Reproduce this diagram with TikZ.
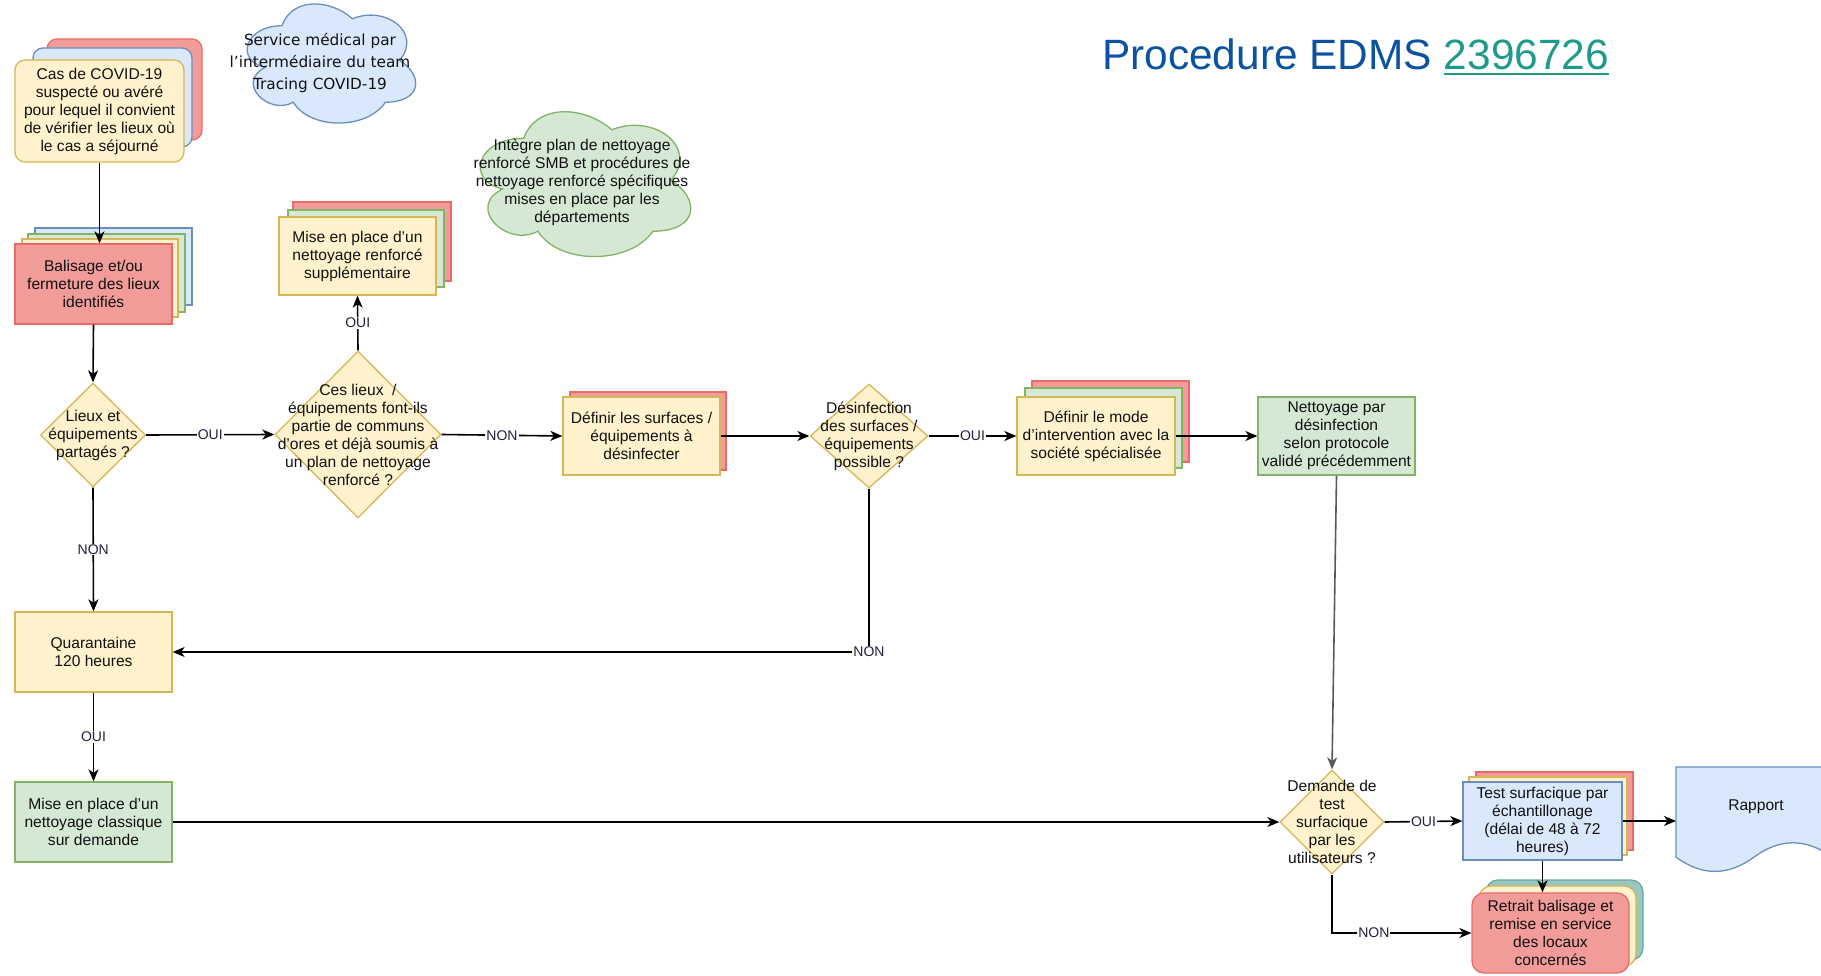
\documentclass[tikz,border=0pt]{standalone}
\usepackage{fontspec}
\setmainfont{Liberation Sans}
\newfontfamily\cloudfont{DejaVu Sans}
\usetikzlibrary{arrows.meta,shapes.geometric,calc}
\definecolor{yfill}{HTML}{FFF2CC}
\definecolor{ydraw}{HTML}{D6B656}
\definecolor{rfill}{HTML}{F19C99}
\definecolor{rdraw}{HTML}{EA6B66}
\definecolor{gfill}{HTML}{D5E8D4}
\definecolor{gdraw}{HTML}{82B366}
\definecolor{bfill}{HTML}{DAE8FC}
\definecolor{bdraw}{HTML}{6C8EBF}
\definecolor{tfill}{HTML}{9AC7BF}
\definecolor{tdraw}{HTML}{67AB9F}
\definecolor{titleblue}{HTML}{0B52A0}
\definecolor{linkteal}{HTML}{1E9A8A}
\definecolor{lbl}{HTML}{202040}
\definecolor{txtc}{HTML}{111111}
\newcommand\nodefont{\fontsize{15.6}{18}\selectfont}
\newcommand\labfont{\fontsize{14}{16}\selectfont}
\newcommand\myuline[1]{\setbox0\hbox{#1}\rlap{\rule[-5pt]{\wd0}{2.4pt}}\box0}
\tikzset{
  lw/.style={line width=1.3pt},
  yb/.style={lw, draw=ydraw, fill=yfill},
  rb/.style={lw, draw=rdraw, fill=rfill},
  gb/.style={lw, draw=gdraw, fill=gfill},
  bb/.style={lw, draw=bdraw, fill=bfill},
  tb/.style={lw, draw=tdraw, fill=tfill},
  boxn/.style={rectangle, inner sep=0pt, align=center, font=\nodefont, text=txtc},
  nd/.style={inner sep=0pt, align=center, font=\nodefont, text=txtc},
  dia/.style={diamond, inner sep=0pt, lw, draw=ydraw, fill=yfill},
  conn/.style={line width=1.6pt, draw=black, -{Stealth[length=12pt,width=10pt,inset=3.5pt]}},
  lab/.style={fill=white, inner sep=1pt, font=\labfont, text=lbl},
}
\begin{document}
\begin{tikzpicture}[x=1pt,y=-1pt]
\useasboundingbox (0,0) rectangle (1821,976);

% ---------- title ----------
\node[anchor=base west, inner sep=0pt, font=\fontsize{42.4}{48}\selectfont, text=titleblue] (title) at (1102,70)
  {Procedure EDMS \textcolor{linkteal}{\myuline{2396726}}};

% ---------- clouds ----------
\begin{scope}[shift={(235,-9)},xscale=188,yscale=139]
\draw[bb] (0.25,0.25) .. controls (0.05,0.25) and (0,0.5) .. (0.16,0.55) .. controls (0,0.66) and (0.18,0.9) .. (0.31,0.8) .. controls (0.4,1) and (0.7,1) .. (0.8,0.8) .. controls (1,0.8) and (1,0.6) .. (0.875,0.5) .. controls (1,0.3) and (0.8,0.1) .. (0.625,0.2) .. controls (0.5,0.05) and (0.3,0.05) .. (0.25,0.25) -- cycle;
\end{scope}
\node[inner sep=0pt, align=center, text=txtc, font=\cloudfont\fontsize{15.3}{21.7}\selectfont] (cloud1) at (320,63)
  {Service médical par\\l’intermédiaire du team\\Tracing COVID-19};

\begin{scope}[shift={(465,96)},xscale=235,yscale=169]
\draw[gb] (0.25,0.25) .. controls (0.05,0.25) and (0,0.5) .. (0.16,0.55) .. controls (0,0.66) and (0.18,0.9) .. (0.31,0.8) .. controls (0.4,1) and (0.7,1) .. (0.8,0.8) .. controls (1,0.8) and (1,0.6) .. (0.875,0.5) .. controls (1,0.3) and (0.8,0.1) .. (0.625,0.2) .. controls (0.5,0.05) and (0.3,0.05) .. (0.25,0.25) -- cycle;
\end{scope}
\node[nd] (cloud2) at (582,182)
  {Intègre plan de nettoyage\\renforcé SMB et procédures de\\nettoyage renforcé spécifiques\\mises en place par les\\départements};

% ---------- Cas de COVID ----------
\draw[rb, rounded corners=10pt] (47,39) rectangle (202,140);
\draw[bb, rounded corners=10pt] (33,48) rectangle (192,147);
\node[boxn, yb, rounded corners=10pt, minimum width=169, minimum height=102] (cas) at (99.5,111)
  {Cas de COVID-19\\suspecté ou avéré\\pour lequel il convient\\de vérifier les lieux où\\le cas a séjourné};

% ---------- Balisage ----------
\draw[bb] (35,228) rectangle (192,305);
\draw[gb] (28,234) rectangle (185,312);
\draw[yb] (22,239) rectangle (178,317);
\node[boxn, rb, minimum width=157, minimum height=80] (bal) at (93.5,284)
  {Balisage et/ou\\fermeture des lieux\\identifiés};

% ---------- renforce supplementaire ----------
\draw[rb] (293,202) rectangle (451,281);
\draw[gb] (288,210) rectangle (444,287);
\node[boxn, yb, minimum width=157, minimum height=78] (ren) at (357.5,256)
  {Mise en place d'un\\nettoyage renforcé\\supplémentaire};

% ---------- diamonds ----------
\node[dia, minimum width=105, minimum height=104] (d1) at (93,435) {};
\node[nd] (d1t) at (d1.center) {Lieux et\\équipements\\partagés ?};

\node[dia, minimum width=166, minimum height=167] (d2) at (358,434.5) {};
\node[nd] (d2t) at (d2.center) {Ces lieux \ /\\équipements font-ils\\partie de communs\\d'ores et déjà soumis à\\un plan de nettoyage\\renforcé ?};

\node[dia, minimum width=118, minimum height=104] (d3) at (869,436) {};
\node[nd] (d3t) at (d3.center) {Désinfection\\des surfaces /\\équipements\\possible ?};

\node[dia, minimum width=104, minimum height=104] (d4) at (1332,822) {};
\node[nd] (d4t) at (d4.center) {Demande de\\test\\surfacique\\par les\\utilisateurs ?};

% ---------- Definir surfaces ----------
\draw[rb] (570,392) rectangle (726,470);
\node[boxn, yb, minimum width=157, minimum height=78] (surf) at (641.5,436)
  {Définir les surfaces /\\équipements à\\désinfecter};

% ---------- Definir mode ----------
\draw[rb] (1032,381) rectangle (1189,462);
\draw[gb] (1025,388) rectangle (1182,468);
\node[boxn, yb, minimum width=158, minimum height=78] (mode) at (1096,436)
  {Définir le mode\\d'intervention avec la\\société spécialisée};

% ---------- Nettoyage par desinfection ----------
\node[boxn, gb, minimum width=157, minimum height=78] (net) at (1336.5,436)
  {Nettoyage par\\désinfection\\selon protocole\\validé précédemment};

% ---------- Quarantaine ----------
\node[boxn, yb, minimum width=157, minimum height=80] (quar) at (93.5,652)
  {Quarantaine\\120 heures};

% ---------- nettoyage classique ----------
\node[boxn, gb, minimum width=157, minimum height=80] (cla) at (93.5,822)
  {Mise en place d'un\\nettoyage classique\\sur demande};

% ---------- Test surfacique ----------
\draw[rb] (1476,772) rectangle (1633,850);
\draw[yb] (1469,777) rectangle (1627,855);
\node[boxn, bb, minimum width=159, minimum height=78] (test) at (1542.5,821)
  {Test surfacique par\\échantillonage\\(délai de 48 à 72\\heures)};

% ---------- Retrait ----------
\draw[tb, rounded corners=12pt] (1486,880) rectangle (1643,960);
\draw[yb, rounded corners=12pt] (1479,886) rectangle (1636,966);
\node[boxn, rb, rounded corners=12pt, minimum width=157, minimum height=80] (ret) at (1550.5,933)
  {Retrait balisage et\\remise en service\\des locaux\\concernés};

% ---------- Rapport ----------
\begin{scope}
\clip (0,0) rectangle (1821,976);
\begin{scope}[shift={(1676,767)},xscale=156,yscale=106]
\draw[bb] (0,0) -- (1,0) -- (1,0.85) .. controls (0.8333,0.67) and (0.6667,0.67) .. (0.5,0.85) .. controls (0.3333,1.03) and (0.1667,1.03) .. (0,0.85) -- cycle;
\end{scope}
\end{scope}
\node[nd] (rap) at (1756,807) {Rapport};
\coordinate (rapin) at (1676,821);

% ---------- connectors ----------
\draw[conn] (cas.south) -- (cas.south |- bal.north);
\draw[conn] (bal.south) -- (d1.north);
\draw[conn] (d1.east) -- node[lab] {OUI} (d2.west);
\draw[conn] (d1.south) -- node[lab] {NON} (quar.north);
\draw[conn] (quar.south) -- node[lab] {OUI} (cla.north);
\draw[conn] (d2.north) -- node[lab] {OUI} (ren.south);
\draw[conn] (d2.east) -- node[lab] {NON} (surf.west);
\draw[conn] (surf.east) -- (d3.west);
\draw[conn] (d3.east) -- node[lab] {OUI} (mode.west);
\draw[conn] (mode.east) -- (net.west);
\draw[conn, draw=black!65] (net.south) -- (d4.north);
\draw[conn] (d3.south) |- node[lab, pos=0.5] {NON} (quar.east);
\draw[conn] (cla.east) -- (d4.west);
\draw[conn] (d4.east) -- node[lab] {OUI} (test.west);
\draw[conn] (d4.south) |- node[lab, pos=0.65] {NON} (ret.west);
\draw[conn] (test.south) -- (test.south |- ret.north);
\draw[conn] (test.east) -- (rapin);
\end{tikzpicture}
\end{document}
